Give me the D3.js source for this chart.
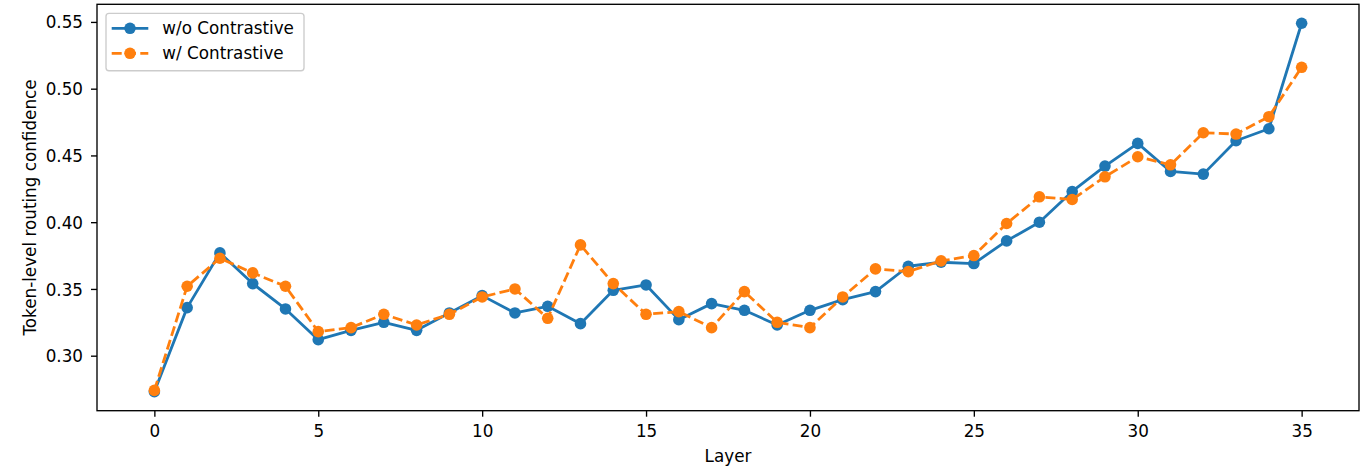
<!DOCTYPE html>
<html>
<head>
<meta charset="utf-8">
<script src="https://cdn.jsdelivr.net/npm/d3@7.9.0/dist/d3.min.js"></script>
<style>
  body { margin: 0; background: #fff; }
  svg { display: block; font-family: "DejaVu Sans", sans-serif; }
</style>
</head>
<body>
<div id="chart"></div>
<script>
// Layer index and per-layer token-level routing confidence
const layers = [0, 1, 2, 3, 4, 5, 6, 7, 8, 9, 10, 11, 12, 13, 14, 15, 16, 17,
  18, 19, 20, 21, 22, 23, 24, 25, 26, 27, 28, 29, 30, 31, 32, 33, 34, 35];

const woContrastive = [0.273, 0.336, 0.377, 0.354, 0.335, 0.312, 0.319, 0.325,
  0.319, 0.332, 0.345, 0.332, 0.337, 0.324, 0.349, 0.353, 0.327, 0.339, 0.334,
  0.323, 0.334, 0.342, 0.348, 0.367, 0.370, 0.369, 0.386, 0.400, 0.423, 0.442,
  0.459, 0.438, 0.436, 0.461, 0.470, 0.549];

const wContrastive = [0.274, 0.352, 0.373, 0.362, 0.352, 0.318, 0.321, 0.331,
  0.323, 0.331, 0.344, 0.350, 0.328, 0.383, 0.354, 0.331, 0.333, 0.321, 0.348,
  0.325, 0.321, 0.344, 0.365, 0.363, 0.371, 0.375, 0.399, 0.419, 0.417, 0.434,
  0.449, 0.443, 0.467, 0.466, 0.479, 0.516];

const seriesNames = ["w/o Contrastive", "w/ Contrastive"];
const xTicks = [0, 5, 10, 15, 20, 25, 30, 35];
const yTicks = [0.30, 0.35, 0.40, 0.45, 0.50, 0.55];

const width = 1367;
const height = 466;
const area = { left: 97, right: 1359, top: 4.3, bottom: 410.7 };
const fontSize = 16.8;
const colors = ["#1f77b4", "#ff7f0e"];
const dashes = [null, "10,4.3"];
const lineWidth = 2.8;
const markerR = 5.8;

const xScale = d3.scaleLinear()
  .domain([-1.75, 36.75])
  .range([area.left, area.right]);

const yScale = d3.scaleLinear()
  .domain([0.2588, 0.5632])
  .range([area.bottom, area.top]);

const svg = d3.select("#chart")
  .append("svg")
  .attr("width", width)
  .attr("height", height)
  .attr("viewBox", `0 0 ${width} ${height}`);

// x axis
const xAxis = svg.append("g")
  .attr("transform", `translate(0, ${area.bottom})`)
  .call(d3.axisBottom(xScale).tickValues(xTicks).tickSize(6).tickPadding(8.2).tickSizeOuter(0));

// y axis
const yAxis = svg.append("g")
  .attr("transform", `translate(${area.left}, 0)`)
  .call(d3.axisLeft(yScale).tickValues(yTicks).tickFormat(d3.format(".2f"))
    .tickSize(6).tickPadding(8).tickSizeOuter(0));

for (const ax of [xAxis, yAxis]) {
  ax.select(".domain").remove();
  ax.selectAll(".tick line").attr("stroke", "#000").attr("stroke-width", 1.35);
  ax.selectAll(".tick text")
    .attr("fill", "#000")
    .style("font-size", `${fontSize}px`)
    .style("font-family", '"DejaVu Sans", sans-serif');
}
yAxis.selectAll(".tick text").attr("dy", "0.36em");

// series
const series = [woContrastive, wContrastive];
const line = d3.line()
  .x((d, i) => xScale(layers[i]))
  .y((d) => yScale(d));

series.forEach((values, k) => {
  const g = svg.append("g").attr("class", "series");
  g.append("path")
    .datum(values)
    .attr("d", line)
    .attr("fill", "none")
    .attr("stroke", colors[k])
    .attr("stroke-width", lineWidth)
    .attr("stroke-dasharray", dashes[k])
    .attr("stroke-linejoin", "round");
  g.selectAll("circle")
    .data(values)
    .join("circle")
    .attr("cx", (d, i) => xScale(layers[i]))
    .attr("cy", (d) => yScale(d))
    .attr("r", markerR)
    .attr("fill", colors[k]);
});

// frame
svg.append("rect")
  .attr("x", area.left)
  .attr("y", area.top)
  .attr("width", area.right - area.left)
  .attr("height", area.bottom - area.top)
  .attr("fill", "none")
  .attr("stroke", "#000")
  .attr("stroke-width", 1.35);

// axis labels
svg.append("text")
  .attr("x", (area.left + area.right) / 2)
  .attr("y", 461.5)
  .attr("text-anchor", "middle")
  .style("font-size", `${fontSize}px`)
  .text("Layer");

svg.append("text")
  .attr("transform", `translate(36.2, ${(area.top + area.bottom) / 2}) rotate(-90)`)
  .attr("text-anchor", "middle")
  .style("font-size", `${fontSize}px`)
  .text("Token-level routing confidence");

// legend
const legend = svg.append("g").attr("class", "legend");
legend.append("rect")
  .attr("x", 106)
  .attr("y", 13.3)
  .attr("width", 198)
  .attr("height", 57.4)
  .attr("rx", 3)
  .attr("fill", "#fff")
  .attr("fill-opacity", 0.8)
  .attr("stroke", "#cccccc")
  .attr("stroke-width", 1.35);

seriesNames.forEach((name, k) => {
  const y = 28.3 + k * 25;
  legend.append("line")
    .attr("x1", 111.7)
    .attr("x2", 148.3)
    .attr("y1", y)
    .attr("y2", y)
    .attr("stroke", colors[k])
    .attr("stroke-width", lineWidth)
    .attr("stroke-dasharray", dashes[k]);
  legend.append("circle")
    .attr("cx", 130)
    .attr("cy", y)
    .attr("r", markerR)
    .attr("fill", colors[k]);
  legend.append("text")
    .attr("x", 162.3)
    .attr("y", y + 6.1)
    .style("font-size", `${fontSize}px`)
    .text(name);
});
</script>
</body>
</html>
